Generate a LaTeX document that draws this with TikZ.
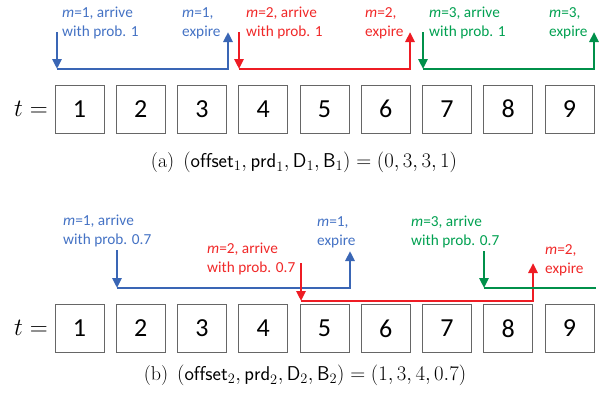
\documentclass[tikz,border=0pt]{standalone}
\usepackage{fontspec}
\newfontfamily\lab{Carlito}
\usetikzlibrary{arrows.meta}
\definecolor{bline}{HTML}{3A66B5}
\definecolor{btext}{HTML}{4472C4}
\definecolor{rline}{HTML}{EE1C24}
\definecolor{rtext}{HTML}{F02828}
\definecolor{gline}{HTML}{00904A}
\definecolor{gtext}{HTML}{00A050}
\newcommand\twol[2]{\begin{tabular}[t]{@{}l@{}}#1\\#2\end{tabular}}
\newcommand\mvar{\textit{m}}
\tikzset{
  tbox/.style={draw=black!60, line width=0.9pt, minimum width=49pt, minimum height=48pt, inner sep=0pt, font=\fontsize{26}{31}\lab},
  lbl/.style={anchor=base west, inner sep=0pt, font=\fontsize{15.3}{19}\lab},
  conn/.style={line width=2.8pt},
  tipd/.style={-{Triangle[width=9pt,length=10pt]}},
  tlab/.style={anchor=base east, inner sep=0pt, font=\fontsize{23}{28}\selectfont},
  captext/.style={inner sep=0pt, font=\fontsize{20}{24}\selectfont}
}
\begin{document}
\begin{tikzpicture}[x=1pt,y=-1pt]
\useasboundingbox (0,0) rectangle (612,405);
% boxes
\foreach \i in {1,...,9} {
  \node[tbox] (a\i) at ({79.5+61.25*(\i-1)},109) {\i};
  \node[tbox] (b\i) at ({79.5+61.25*(\i-1)},328.5) {\i};
}
\node[tlab] (ta) at (48,116) {$t=$};
\node[tlab] (tb) at (48,335) {$t=$};
% top labels
\node[lbl,text=btext] (l1) at (62,17.8) {\twol{\mvar=1, arrive}{with prob. 1}};
\node[lbl,text=btext] (l2) at (182,17.8) {\twol{\mvar=1,}{expire}};
\node[lbl,text=rtext] (l3) at (246,17.8) {\twol{\mvar=2, arrive}{with prob. 1}};
\node[lbl,text=rtext] (l4) at (365,17.8) {\twol{\mvar=2,}{expire}};
\node[lbl,text=gtext] (l5) at (429,17.8) {\twol{\mvar=3, arrive}{with prob. 1}};
\node[lbl,text=gtext] (l6) at (549,17.8) {\twol{\mvar=3,}{expire}};
% bottom labels
\node[lbl,text=btext] (k1) at (63,225.5) {\twol{\mvar=1, arrive}{with prob. 0.7}};
\node[lbl,text=rtext] (k2) at (207,253.5) {\twol{\mvar=2, arrive}{with prob. 0.7}};
\node[lbl,text=btext] (k3) at (317,226.5) {\twol{\mvar=1,}{expire}};
\node[lbl,text=gtext] (k4) at (411,226.5) {\twol{\mvar=3, arrive}{with prob. 0.7}};
\node[lbl,text=rtext] (k5) at (545,254.5) {\twol{\mvar=2,}{expire}};
% top coordinates
\coordinate (bs1) at (57,32);  \coordinate (bc1) at (57,69);
\coordinate (bc2) at (228,69); \coordinate (be1) at (228,32);
\coordinate (rs1) at (239,32); \coordinate (rc1) at (239,69);
\coordinate (rc2) at (410,69); \coordinate (re1) at (410,32);
\coordinate (gs1) at (423,32); \coordinate (gc1) at (423,69);
\coordinate (gc2) at (594,69); \coordinate (ge1) at (594,32);
% top connectors
\draw[conn,bline,tipd] (bs1) -- (bc1);
\draw[conn,bline,tipd] (bc1) -- (bc2) -- (be1);
\draw[conn,rline,tipd] (rs1) -- (rc1);
\draw[conn,rline,tipd] (rc1) -- (rc2) -- (re1);
\draw[conn,gline,tipd] (gs1) -- (gc1);
\draw[conn,gline,tipd] (gc1) -- (gc2) -- (ge1);
% bottom coordinates
\coordinate (bs2) at (117,250); \coordinate (bd1) at (117,288);
\coordinate (bd2) at (350,288); \coordinate (be2) at (350,251);
\coordinate (rs2) at (301,263); \coordinate (rd1) at (301,301);
\coordinate (rd2) at (533,301); \coordinate (re2) at (533,263);
\coordinate (gs2) at (484,251); \coordinate (gd1) at (484,288);
\coordinate (gd2) at (596,288);
% bottom connectors
\draw[conn,bline,tipd] (bs2) -- (bd1);
\draw[conn,bline,tipd] (bd1) -- (bd2) -- (be2);
\draw[conn,rline,tipd] (rs2) -- (rd1);
\draw[conn,rline,tipd] (rd1) -- (rd2) -- (re2);
\draw[conn,gline,tipd] (gs2) -- (gd1);
\draw[conn,gline] (gd1) -- (gd2);
% captions
\node[captext] (ca) at (304,162) {(a)\hspace{0.45em}$(\mathsf{offset}_1,\mathsf{prd}_1,\mathsf{D}_1,\mathsf{B}_1)=(0,3,3,1)$};
\node[captext] (cb) at (305,375) {(b)\hspace{0.45em}$(\mathsf{offset}_2,\mathsf{prd}_2,\mathsf{D}_2,\mathsf{B}_2)=(1,3,4,0.7)$};
\end{tikzpicture}
\end{document}
